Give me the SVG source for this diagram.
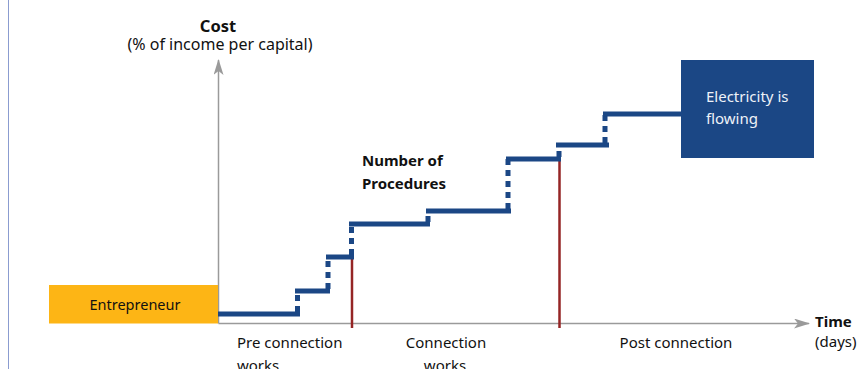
<svg xmlns="http://www.w3.org/2000/svg" width="857" height="369" viewBox="0 0 857 369">
<defs>
<style>
text{font-family:"Noto Sans","Open Sans","Liberation Sans",sans-serif;fill:#111111;font-size:15px}
.b{font-weight:bold}
.w{fill:#eef2f8}
.axis{stroke:#9a9a9a;stroke-width:1.5;fill:none}
.step{stroke:#1b4785;stroke-width:5;fill:none}
.dash{stroke:#1b4785;stroke-width:5;fill:none;stroke-dasharray:6 5}
.red{stroke:#952525;stroke-width:2.5;fill:none}
</style>
<marker id="ah" markerWidth="16" markerHeight="10" refX="15" refY="5" orient="auto" markerUnits="userSpaceOnUse">
<path d="M0,0 L16,5 L0,10 L4,5 Z" fill="#9a9a9a"/>
</marker>
</defs>
<rect width="857" height="369" fill="#ffffff"/>
<line x1="8.5" y1="0" x2="8.5" y2="369" stroke="#8b9cd0" stroke-width="1"/>

<g id="axis-labels">
<text class="b" x="218" y="32" text-anchor="middle" style="font-size:16.5px">Cost</text>
<text x="220" y="50" text-anchor="middle" style="font-size:16px">(% of income per capital)</text>
<text class="b" x="815" y="327">Time</text>
<text x="815" y="347">(days)</text>
</g>

<g id="connectors">
<line class="axis" x1="218.5" y1="323.5" x2="218.5" y2="60" marker-end="url(#ah)"/>
<line class="axis" x1="218.5" y1="323.5" x2="809" y2="323.5" marker-end="url(#ah)"/>
<line class="red" x1="352" y1="257" x2="352" y2="328"/>
<line class="red" x1="559.5" y1="159" x2="559.5" y2="328"/>
<path class="step" d="M218,314 H300"/>
<path class="dash" d="M297.5,312 V291"/>
<path class="step" d="M295,291 H330"/>
<path class="dash" d="M328,289 V257"/>
<path class="step" d="M326,257 H354"/>
<path class="dash" d="M351.5,255 V224"/>
<path class="step" d="M349,224 H430"/>
<path class="dash" d="M428,222 V211"/>
<path class="step" d="M426,211 H511"/>
<path class="dash" d="M508,209 V159"/>
<path class="step" d="M506,159 H561"/>
<path class="dash" d="M559,157 V145"/>
<path class="step" d="M556,145 H609"/>
<path class="dash" d="M605,143 V114"/>
<path class="step" d="M603,114 H681"/>
</g>

<g id="entrepreneur">
<rect x="49" y="285" width="169" height="38.5" fill="#fdb515"/>
<text x="135" y="310" text-anchor="middle" style="font-size:14.5px">Entrepreneur</text>
</g>

<g id="electricity">
<rect x="681" y="60" width="133" height="98" fill="#1b4785"/>
<text class="w" x="706" y="102">Electricity is</text>
<text class="w" x="706" y="124">flowing</text>
</g>

<g id="procedures-label">
<text class="b" x="362" y="166">Number of</text>
<text class="b" x="362" y="189">Procedures</text>
</g>

<g id="phase-labels">
<text x="237" y="348">Pre connection</text>
<text x="237" y="371">works</text>
<text x="446" y="348" text-anchor="middle">Connection</text>
<text x="445" y="371" text-anchor="middle">works</text>
<text x="676" y="348" text-anchor="middle">Post connection</text>
</g>
</svg>
